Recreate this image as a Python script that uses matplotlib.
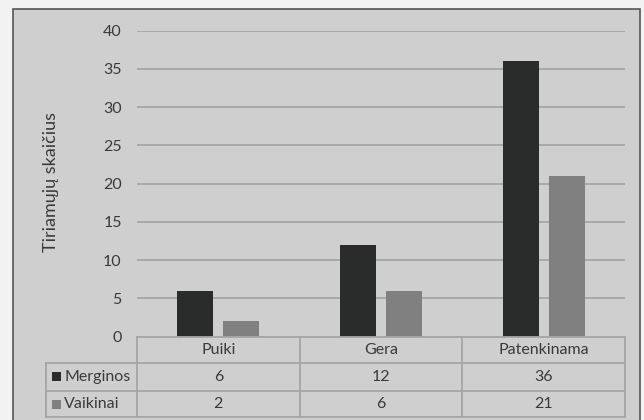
import matplotlib
matplotlib.use("Agg")
import matplotlib.pyplot as plt
import matplotlib.patches as patches
import numpy as np

categories = ["Puiki", "Gera", "Patenkinama"]
series_names = ["Merginos", "Vaikinai"]
merginos = [6, 12, 36]
vaikinai = [2, 6, 21]
yticks = [0, 5, 10, 15, 20, 25, 30, 35, 40]
ylabel = "Tiriamųjų skaičius"

W, H = 644, 420
BG = "#cfcfcf"
COLORS = ["#2a2b2b", "#808080"]
TXT = "#3a3a3a"
LINE = "#a6a6a6"
FS = 11.5

plt.rcParams['font.family'] = ['Lato', 'DejaVu Sans']

fig = plt.figure(figsize=(W / 100, H / 100), dpi=100)
fig.patch.set_facecolor("#f2f2f2")


def fx(px):
    return px / W


def fy(py):
    return 1 - py / H


# chart frame
fig.patches.append(patches.Rectangle((fx(13), fy(425)), fx(640) - fx(13), fy(9) - fy(425),
                                     transform=fig.transFigure, facecolor=BG,
                                     edgecolor="#555555", lw=1.2, zorder=-5))

# plot area
left, right, top, bottom = 137, 625, 30.7, 336.7
ax = fig.add_axes([fx(left), fy(bottom), fx(right) - fx(left), fy(top) - fy(bottom)])
ax.set_facecolor("none")

x = np.arange(len(categories))
width = 0.222
off = 0.142
ax.bar(x - off, merginos, width, color=COLORS[0], zorder=3)
ax.bar(x + off, vaikinai, width, color=COLORS[1], zorder=3)

ax.set_xlim(-0.5, len(categories) - 0.5)
ax.set_ylim(0, 40)
ax.set_yticks(yticks)
ax.set_yticklabels([str(t) for t in yticks], fontsize=FS, color=TXT)
ax.tick_params(axis="y", length=0, pad=11)
ax.set_xticks([])
ax.yaxis.grid(True, color=LINE, lw=1.3)
ax.set_axisbelow(True)
for s in ax.spines.values():
    s.set_visible(False)

fig.text(fx(51), fy(182), ylabel, rotation=90, ha="center", va="center",
         fontsize=13, color=TXT)

# data table below the plot
px_per_unit = (right - left) / len(categories)
row_edges = [336.7, 362.7, 390.7, 417.3]
col_edges_px = [left + i * px_per_unit for i in range(len(categories) + 1)]
lab_left = 46

lw = 1.3
tf = fig.transFigure
# horizontal lines
fig.lines.append(plt.Line2D([fx(left), fx(right)], [fy(row_edges[0])] * 2, transform=tf, color=LINE, lw=lw))
for r in row_edges[1:]:
    fig.lines.append(plt.Line2D([fx(lab_left), fx(right)], [fy(r)] * 2, transform=tf, color=LINE, lw=lw))
# vertical lines
fig.lines.append(plt.Line2D([fx(lab_left)] * 2, [fy(row_edges[1]), fy(row_edges[-1])], transform=tf, color=LINE, lw=lw))
for c in col_edges_px:
    fig.lines.append(plt.Line2D([fx(c)] * 2, [fy(row_edges[0]), fy(row_edges[-1])], transform=tf, color=LINE, lw=lw))

for i, cat in enumerate(categories):
    cx = (col_edges_px[i] + col_edges_px[i + 1]) / 2
    fig.text(fx(cx), fy((row_edges[0] + row_edges[1]) / 2), cat, ha="center", va="center",
             fontsize=FS, color=TXT)
    for j, vals in enumerate([merginos, vaikinai]):
        fig.text(fx(cx), fy((row_edges[j + 1] + row_edges[j + 2]) / 2), str(vals[i]),
                 ha="center", va="center", fontsize=FS, color=TXT)

for j, name in enumerate(series_names):
    cy = (row_edges[j + 1] + row_edges[j + 2]) / 2
    fig.patches.append(patches.Rectangle((fx(52), fy(cy + 4.5)), fx(9), 9 / H, transform=tf,
                                         facecolor=COLORS[j], edgecolor="none"))
    fig.text(fx(64), fy(cy), name, ha="left", va="center", fontsize=FS, color=TXT)

fig.savefig("out.png", dpi=100, facecolor=fig.get_facecolor())
